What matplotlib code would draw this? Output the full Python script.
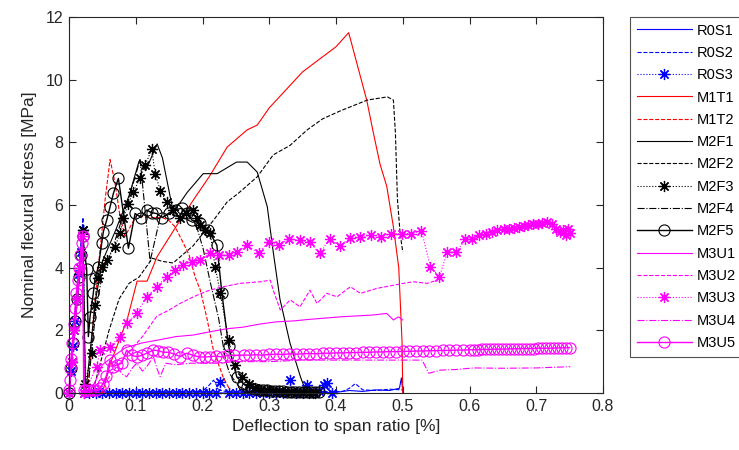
import matplotlib
matplotlib.use("Agg")
import matplotlib.pyplot as plt

plt.rcParams['font.family'] = ['Liberation Sans', 'DejaVu Sans']

# deflection to span ratio [%] and nominal flexural stress [MPa] for each specimen
r0s1_x = [0, 0.01, 0.0205, 0.023, 0.03, 0.1, 0.2, 0.3, 0.4, 0.42, 0.44, 0.46, 0.48, 0.495, 0.498, 0.5, 0.501]
r0s1_y = [0, 2.6, 5.3, 0, 0, 0, 0, 0, 0.02, 0.08, 0.05, 0.1, 0.08, 0.15, 0.48, 0.05, 0]

r0s2_x = [0, 0.01, 0.021, 0.024, 0.05, 0.1, 0.15, 0.2, 0.21, 0.2165, 0.225, 0.24, 0.3, 0.35,
          0.38, 0.41, 0.42, 0.429, 0.44, 0.46, 0.48, 0.5]
r0s2_y = [0, 2.8, 5.6, 0, 0, 0.02, 0.02, 0.05, 0.25, 0.41, 0.1, 0.02, 0.02, 0.03,
          0.05, 0.05, 0.15, 0.3, 0.1, 0.08, 0.12, 0.1]

r0s3_x = [0, 0.003, 0.006, 0.009, 0.012, 0.015, 0.018, 0.0205, 0.023,
          0.03, 0.04, 0.05, 0.06, 0.07, 0.08, 0.09, 0.1, 0.11, 0.12, 0.13, 0.14, 0.15, 0.16,
          0.17, 0.18, 0.19, 0.2, 0.21, 0.22, 0.2265, 0.24, 0.25, 0.26, 0.27, 0.28, 0.29,
          0.3, 0.31, 0.32, 0.3315, 0.34, 0.35, 0.356, 0.365, 0.375, 0.3815, 0.3865, 0.394]
r0s3_y = [0, 0.7, 1.5, 2.3, 3.0, 3.8, 4.5, 5.2, 0,
          0, 0, 0, 0, 0, 0, 0, 0, 0, 0, 0, 0, 0, 0,
          0, 0, 0, 0, 0, 0, 0.36, 0, 0, 0, 0, 0, 0,
          0, 0, 0, 0.41, 0, 0, 0.25, 0, 0.05, 0.25, 0.31, 0]

m1t1_x = [0, 0.01, 0.0205, 0.024, 0.05, 0.062, 0.087, 0.102, 0.117, 0.132, 0.16, 0.186, 0.21,
          0.237, 0.267, 0.282, 0.3, 0.35, 0.4, 0.419, 0.446, 0.456, 0.466, 0.476, 0.486, 0.494,
          0.499, 0.5]
m1t1_y = [0, 2.5, 5.0, 0, 0, 0.95, 2.33, 3.57, 3.57, 4.35, 5.3, 6.15, 6.9,
          7.85, 8.4, 8.55, 9.1, 10.25, 11.05, 11.5, 9.35, 8.3, 7.3, 6.6, 5.3, 4.0,
          1.6, 0]

m1t2_x = [0, 0.01, 0.0205, 0.024, 0.029, 0.0365, 0.0465, 0.054, 0.0615, 0.069, 0.0765, 0.084,
          0.0915, 0.1015, 0.12, 0.14, 0.15, 0.159, 0.171, 0.18, 0.189, 0.1965, 0.2065, 0.216,
          0.231, 0.241]
m1t2_y = [0, 2.4, 4.9, 0, 0.3, 2.43, 4.56, 6.15, 7.45, 6.7, 5.63, 5.0,
          5.3, 5.68, 5.6, 5.6, 5.5, 5.3, 4.8, 4.4, 3.7, 3.3, 2.4, 1.4,
          0.5, 0.1]

m2f1_x = [0, 0.01, 0.0205, 0.025, 0.03, 0.04, 0.05, 0.07, 0.09, 0.105, 0.115, 0.132, 0.14,
          0.155, 0.166, 0.177, 0.201, 0.222, 0.251, 0.267, 0.282, 0.297, 0.306, 0.316, 0.331,
          0.347, 0.355]
m2f1_y = [0, 2.5, 5.0, 0, 1.0, 3.0, 4.2, 5.2, 6.3, 7.4, 7.1, 7.95, 7.5,
          5.9, 6.06, 6.4, 7.0, 7.0, 7.37, 7.37, 7.05, 5.95, 4.5, 3.0, 1.6,
          0.5, 0.05]

m2f2_x = [0, 0.01, 0.0205, 0.024, 0.035, 0.045, 0.06, 0.075, 0.09, 0.105, 0.125, 0.14, 0.156,
          0.186, 0.216, 0.237, 0.2535, 0.282, 0.306, 0.331, 0.357, 0.38, 0.406, 0.447, 0.477,
          0.486, 0.489, 0.492, 0.496, 0.5]
m2f2_y = [0, 2.4, 4.8, 0, 0, 0.8, 2.0, 3.0, 3.5, 3.7, 4.3, 4.2, 4.15,
          4.7, 5.5, 6.1, 6.37, 6.9, 7.6, 7.9, 8.4, 8.75, 9.0, 9.35, 9.45,
          9.35, 8.3, 6.2, 5.1, 4.5]

m2f3_x = [0, 0.004, 0.008, 0.012, 0.016, 0.0215, 0.024, 0.034, 0.039, 0.044, 0.049, 0.0565,
          0.069, 0.0765, 0.0815, 0.089, 0.0965, 0.1065, 0.114, 0.124, 0.129, 0.137, 0.1465,
          0.156, 0.166, 0.176, 0.186, 0.1915, 0.1965, 0.204, 0.2115, 0.219, 0.2265, 0.239,
          0.249, 0.259, 0.269, 0.278, 0.287, 0.296, 0.305, 0.314, 0.323, 0.332, 0.341, 0.35,
          0.359, 0.368]
m2f3_y = [0, 1.0, 2.0, 3.0, 4.0, 5.2, 0.3, 1.27, 2.8, 3.66, 4.03, 4.24,
          4.67, 5.1, 5.6, 6.04, 6.43, 6.85, 7.27, 7.78, 7.0, 6.45, 6.1,
          5.84, 5.57, 5.75, 5.84, 5.57, 5.36, 5.2, 5.1, 4.03, 3.2, 1.69,
          0.89, 0.51, 0.3, 0.15, 0.1, 0.08, 0.05, 0.05, 0.03, 0.03, 0.02, 0.02,
          0.01, 0]

m2f4_x = [0, 0.01, 0.0205, 0.023, 0.03, 0.04, 0.05, 0.065, 0.08, 0.095, 0.1065, 0.1215, 0.1365,
          0.15, 0.17, 0.19, 0.201, 0.212, 0.224, 0.235, 0.241, 0.255, 0.27]
m2f4_y = [0, 2.5, 5.0, 0, 0.5, 2.6, 3.8, 4.6, 5.6, 6.6, 7.45, 4.2, 5.6,
          5.7, 5.6, 5.4, 4.6, 3.5, 2.4, 1.0, 0.6, 0.2, 0.05]

m2f5_x = [0, 0.003, 0.006, 0.009, 0.012, 0.015, 0.018, 0.0205, 0.0265, 0.029, 0.0315, 0.0365,
          0.039, 0.044, 0.049, 0.0515, 0.0565, 0.0615, 0.0665, 0.074, 0.089, 0.099, 0.108,
          0.1165, 0.124, 0.131, 0.14, 0.15, 0.16, 0.169, 0.177, 0.184, 0.1965, 0.2085, 0.2215,
          0.229, 0.239, 0.2515, 0.261, 0.267, 0.273, 0.279, 0.285, 0.291, 0.297, 0.303, 0.309,
          0.315, 0.321, 0.327, 0.333, 0.339, 0.345, 0.351, 0.357, 0.363, 0.369, 0.375]
m2f5_y = [0, 0.8, 1.6, 2.3, 3.0, 3.7, 4.4, 5.0, 3.95, 1.8, 2.43, 3.2,
          3.66, 4.03, 4.78, 5.15, 5.52, 5.94, 6.37, 6.85, 4.62, 5.73, 5.6,
          5.84, 5.75, 5.73, 5.6, 5.75, 5.85, 5.9, 5.75, 5.52, 5.42, 5.2, 4.72,
          3.2, 1.5, 0.51, 0.3, 0.2, 0.15, 0.12, 0.1, 0.08, 0.08, 0.06, 0.05,
          0.05, 0.05, 0.04, 0.04, 0.03, 0.03, 0.03, 0.03, 0.02, 0.02, 0.02]

m3u1_x = [0, 0.01, 0.02, 0.023, 0.03, 0.04, 0.05, 0.065, 0.085, 0.11, 0.136, 0.16, 0.186, 0.21,
          0.236, 0.26, 0.286, 0.31, 0.336, 0.36, 0.406, 0.456, 0.476, 0.486, 0.4935, 0.5]
m3u1_y = [0, 2.4, 4.9, 0, 0, 0.4, 0.9, 1.15, 1.45, 1.6, 1.7, 1.8, 1.85, 1.95,
          2.05, 2.1, 2.2, 2.27, 2.3, 2.35, 2.43, 2.49, 2.54, 2.33, 2.43, 2.33]

m3u2_x = [0, 0.01, 0.02, 0.023, 0.03, 0.05, 0.07, 0.09, 0.11, 0.1315, 0.15, 0.1665, 0.1865,
          0.2065, 0.2265, 0.2565, 0.2865, 0.3015, 0.306, 0.3165, 0.3315, 0.346, 0.361, 0.3715,
          0.3865, 0.4015, 0.4215, 0.4365, 0.4615, 0.4865, 0.501, 0.516, 0.5365, 0.5515, 0.555]
m3u2_y = [0, 2.4, 4.9, 0, 0, 0.2, 0.8, 1.3, 1.8, 2.45, 2.65, 2.86, 3.07,
          3.25, 3.37, 3.5, 3.55, 3.6, 3.28, 2.65, 2.97, 2.75, 3.28, 2.86,
          3.18, 3.07, 3.39, 3.18, 3.34, 3.44, 3.5, 3.55, 3.5, 3.6, 3.7]

m3u3_x = [0, 0.004, 0.008, 0.012, 0.016, 0.02, 0.023, 0.0415, 0.0465, 0.0615, 0.0765, 0.0865,
          0.1015, 0.1165, 0.1315, 0.1465, 0.159, 0.1715, 0.184, 0.1965, 0.2115, 0.224, 0.239,
          0.2515, 0.2665, 0.284, 0.299, 0.314, 0.329, 0.3455, 0.3605, 0.3755, 0.3905, 0.4055,
          0.4215, 0.4365, 0.4525, 0.4675, 0.4825, 0.499, 0.513, 0.528, 0.5415, 0.555, 0.5665,
          0.5805, 0.594, 0.604, 0.614, 0.624, 0.634, 0.6415, 0.6515, 0.659, 0.6665, 0.674,
          0.681, 0.688, 0.695, 0.702, 0.709, 0.7165, 0.723, 0.729, 0.735, 0.74, 0.744, 0.747,
          0.75]
m3u3_y = [0, 1.0, 2.0, 3.0, 4.0, 5.0, 0, 0.84, 1.37, 1.48, 1.8, 2.22,
          2.54, 3.07, 3.39, 3.71, 3.92, 4.1, 4.19, 4.24, 4.46, 4.4, 4.4,
          4.5, 4.72, 4.46, 4.83, 4.72, 4.9, 4.88, 4.81, 4.46, 4.91, 4.7,
          4.95, 4.99, 5.04, 4.99, 5.09, 5.09, 5.09, 5.18, 4.03, 3.71, 4.49,
          4.51, 4.9, 4.93, 5.04, 5.09, 5.15, 5.2, 5.22, 5.25, 5.28, 5.3,
          5.33, 5.36, 5.38, 5.4, 5.42, 5.45, 5.38, 5.25, 5.15, 5.2, 5.05, 5.25,
          5.1]

m3u4_x = [0, 0.01, 0.02, 0.023, 0.03, 0.045, 0.0515, 0.06, 0.0715, 0.08, 0.0865, 0.095, 0.1015,
          0.11, 0.1165, 0.1265, 0.1315, 0.1365, 0.145, 0.16, 0.18, 0.2, 0.22, 0.25, 0.3, 0.35,
          0.4, 0.45, 0.5, 0.529, 0.539, 0.556, 0.58, 0.606, 0.65, 0.7, 0.751]
m3u4_y = [0, 2.4, 4.9, 0, 0, 0.1, 0.3, 0.7, 0.84, 0.6, 0.52, 0.8, 0.95,
          0.7, 0.84, 1.16, 0.8, 0.52, 0.95, 0.9, 0.95, 0.95, 0.95, 1.0, 1.0, 1.05,
          1.05, 1.05, 1.05, 1.05, 0.63, 0.73, 0.75, 0.8, 0.79, 0.8, 0.84]

m3u5_x = [0, 0.001, 0.002, 0.003, 0.005, 0.007, 0.009, 0.011, 0.013, 0.015, 0.017, 0.019, 0.0205,
          0.022, 0.026, 0.031, 0.036, 0.041, 0.046, 0.051, 0.056, 0.0615, 0.0665, 0.072, 0.079,
          0.0865, 0.094, 0.1015, 0.109, 0.1165, 0.1265, 0.134, 0.141, 0.149, 0.157, 0.1665,
          0.1765, 0.186, 0.195, 0.204, 0.2115, 0.22, 0.229, 0.238, 0.247, 0.2615, 0.27, 0.28,
          0.29, 0.3, 0.31, 0.32, 0.33, 0.34, 0.35, 0.36, 0.37, 0.38, 0.39, 0.4, 0.41, 0.42,
          0.43, 0.44, 0.45, 0.46, 0.47, 0.48, 0.49, 0.5, 0.51, 0.52, 0.53, 0.54, 0.55, 0.56,
          0.57, 0.58, 0.59, 0.6, 0.606, 0.612, 0.618, 0.624, 0.63, 0.636, 0.642, 0.648, 0.654,
          0.66, 0.666, 0.672, 0.678, 0.684, 0.69, 0.696, 0.702, 0.708, 0.714, 0.72, 0.726,
          0.732, 0.738, 0.744, 0.75]
m3u5_y = [0.1, 0.4, 0.8, 1.1, 1.6, 2.2, 2.7, 3.2, 3.6, 4.0, 4.4, 4.8, 5.0,
          0.1, 0.1, 0.1, 0.1, 0.1, 0.15, 0.3, 0.55, 1.05, 0.84, 0.9, 0.95,
          1.37, 1.2, 1.16, 1.2, 1.27, 1.37, 1.35, 1.3, 1.3, 1.25, 1.16,
          1.27, 1.2, 1.15, 1.15, 1.16, 1.18, 1.15, 1.2, 1.2, 1.21, 1.21, 1.22,
          1.21, 1.23, 1.24, 1.23, 1.25, 1.24, 1.25, 1.26, 1.25, 1.27, 1.27, 1.28, 1.28, 1.29,
          1.29, 1.3, 1.3, 1.31, 1.31, 1.32, 1.32, 1.33, 1.33, 1.34, 1.34, 1.35, 1.35, 1.36,
          1.36, 1.37, 1.37, 1.38, 1.38, 1.38, 1.39, 1.39, 1.39, 1.4, 1.4, 1.4, 1.4,
          1.41, 1.41, 1.41, 1.42, 1.42, 1.42, 1.42, 1.43, 1.43, 1.43, 1.43, 1.43,
          1.44, 1.44, 1.44, 1.45]

x_ticks = [0, 0.1, 0.2, 0.3, 0.4, 0.5, 0.6, 0.7, 0.8]
x_tick_labels = ['0', '0.1', '0.2', '0.3', '0.4', '0.5', '0.6', '0.7', '0.8']
y_ticks = [0, 2, 4, 6, 8, 10, 12]

blue = '#0000ff'
red = '#ff0000'
black = '#000000'
magenta = '#ff00ff'
ast = (8, 2, 0)  # asterisk marker, 8 spokes

fig = plt.figure(figsize=(7.39, 4.5), dpi=100)
ax = fig.add_axes([69 / 739, 1 - 393 / 450, (603 - 69) / 739, (393 - 17) / 450])

lw = 0.8
# markers sitting on y=0 are drawn whole, not cut at the axis line
kw = dict(clip_on=False)
ax.plot(r0s1_x, r0s1_y, '-', color=blue, lw=lw, label='R0S1', **kw)
ax.plot(r0s2_x, r0s2_y, '--', color=blue, lw=lw, label='R0S2', **kw)
ax.plot(r0s3_x, r0s3_y, ':', color=blue, lw=lw, marker=ast, ms=8, mew=0.9, label='R0S3', **kw)
ax.plot(m1t1_x, m1t1_y, '-', color=red, lw=lw, label='M1T1', **kw)
ax.plot(m1t2_x, m1t2_y, '--', color=red, lw=lw, label='M1T2', **kw)
ax.plot(m2f1_x, m2f1_y, '-', color=black, lw=lw, label='M2F1', **kw)
ax.plot(m2f2_x, m2f2_y, '--', color=black, lw=lw, label='M2F2', **kw)
ax.plot(m2f3_x, m2f3_y, ':', color=black, lw=lw, marker=ast, ms=8, mew=0.9, label='M2F3', **kw)
ax.plot(m2f4_x, m2f4_y, '-.', color=black, lw=lw, label='M2F4', **kw)
ax.plot(m2f5_x, m2f5_y, '-', color=black, lw=1.0, marker='o', ms=8, mfc='none', mew=0.8,
        label='M2F5', **kw)
ax.plot(m3u1_x, m3u1_y, '-', color=magenta, lw=lw, label='M3U1', **kw)
ax.plot(m3u2_x, m3u2_y, '--', color=magenta, lw=lw, label='M3U2', **kw)
ax.plot(m3u3_x, m3u3_y, ':', color=magenta, lw=lw, marker=ast, ms=8, mew=0.9, label='M3U3', **kw)
ax.plot(m3u4_x, m3u4_y, '-.', color=magenta, lw=lw, label='M3U4', **kw)
ax.plot(m3u5_x, m3u5_y, '-', color=magenta, lw=1.0, marker='o', ms=8, mfc='none', mew=0.8,
        label='M3U5', **kw)

ax.set_xlim(0, 0.8)
ax.set_ylim(0, 12)
ax.set_xticks(x_ticks)
ax.set_xticklabels(x_tick_labels)
ax.set_yticks(y_ticks)
ax.tick_params(direction='in', length=5, width=0.8, top=True, right=True,
               labelsize=11.5, colors='#262626', pad=4)
for s in ax.spines.values():
    s.set_color('#262626')
    s.set_linewidth(0.8)

ax.set_xlabel('Deflection to span ratio [%]', fontsize=12.5, color='#262626', labelpad=4)
ax.set_ylabel('Nominal flexural stress [MPa]', fontsize=12.5, color='#262626', labelpad=6)

leg = ax.legend(loc='upper left', bbox_to_anchor=(630 / 739, 1 - 17 / 450),
                bbox_transform=fig.transFigure, borderaxespad=0, fontsize=10.5,
                frameon=True, fancybox=False, labelspacing=0.57, borderpad=0.45,
                handlelength=3.8, handletextpad=0.35)
leg.get_frame().set_edgecolor('#262626')
leg.get_frame().set_linewidth(0.8)

fig.savefig('out.png', dpi=100)
